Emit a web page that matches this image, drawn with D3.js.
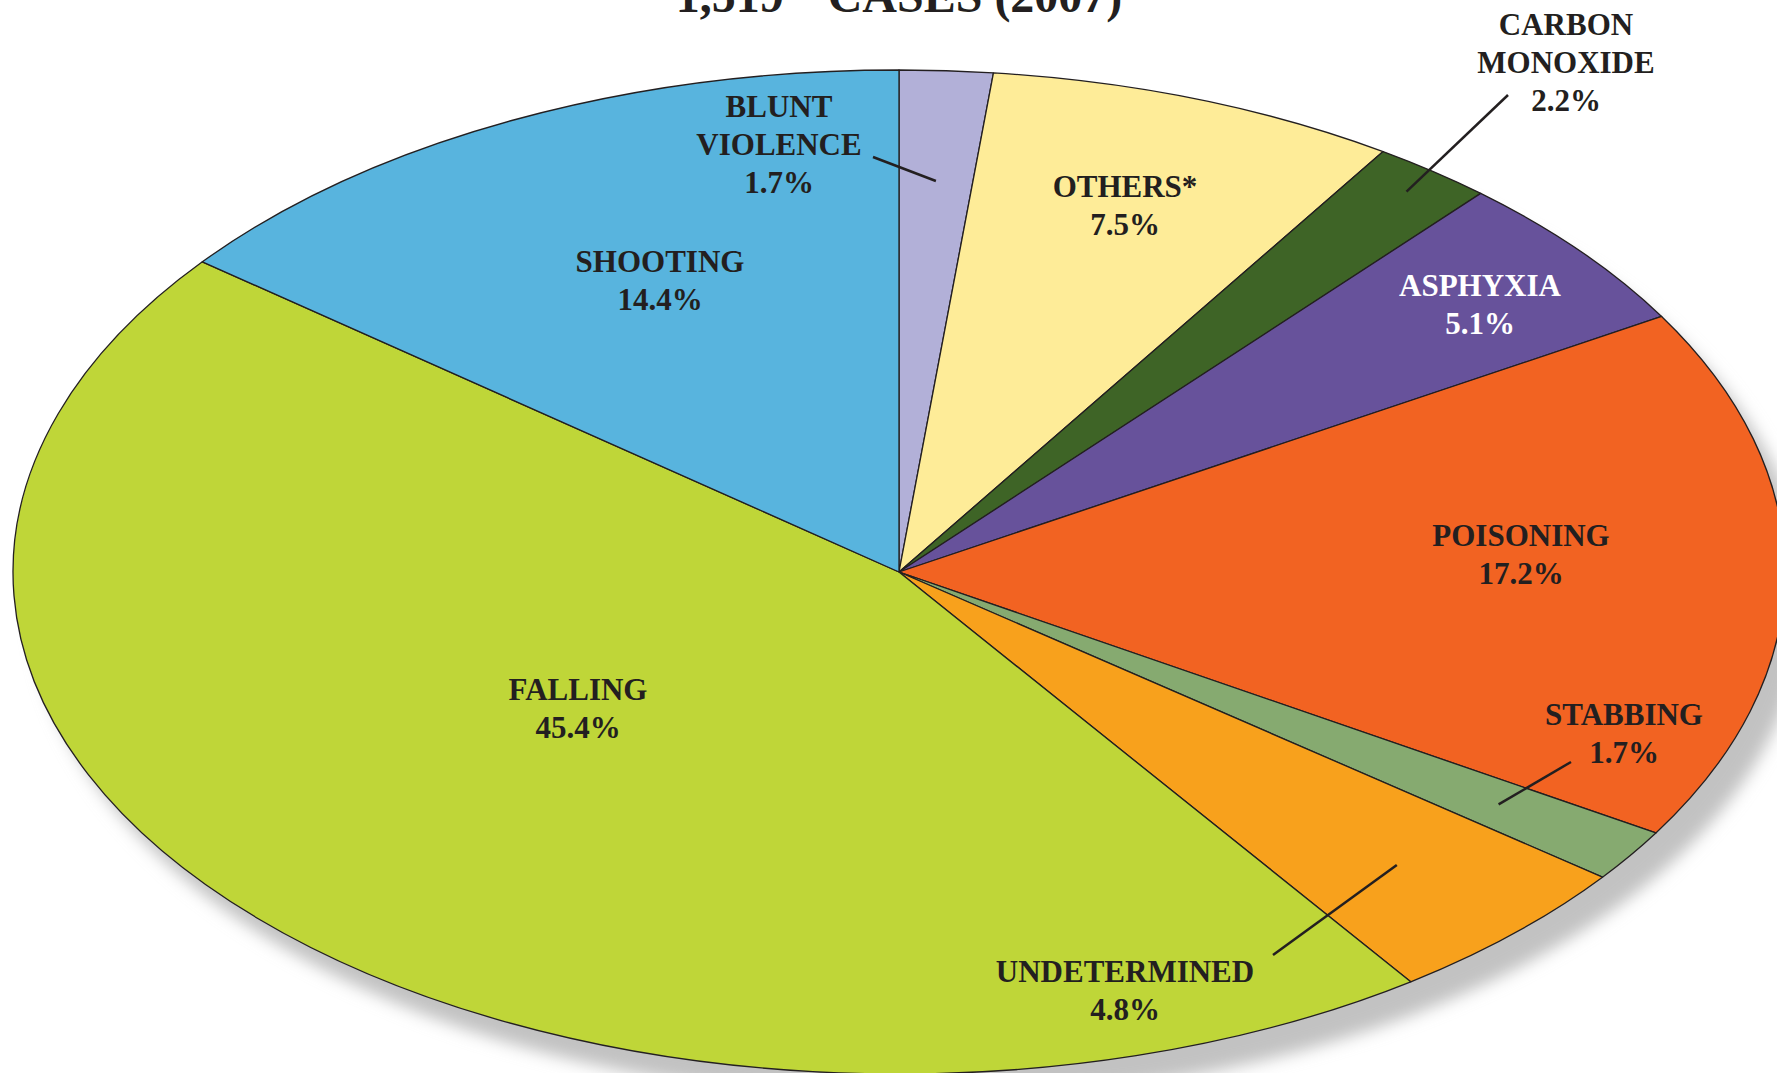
<!DOCTYPE html>
<html>
<head>
<meta charset="utf-8">
<script src="https://cdn.jsdelivr.net/npm/d3@7"></script>
<style>
  body { margin: 0; background: #fff; }
  text { font-family: "Liberation Serif", "Times New Roman", serif; font-weight: bold; }
</style>
</head>
<body>
<div id="chart"></div>
<script>
// clockwise from 12 o'clock
var categories = ['BLUNT VIOLENCE', 'OTHERS*', 'CARBON MONOXIDE', 'ASPHYXIA', 'POISONING',
                  'STABBING', 'UNDETERMINED', 'FALLING', 'SHOOTING'];
var values = [1.7, 7.5, 2.2, 5.1, 17.2, 1.7, 4.8, 45.4, 14.4];
var colors = ['#b2b0d8', '#feec98', '#3e6426', '#67529b', '#f26322',
              '#86aa70', '#f8a11c', '#bfd638', '#58b4de'];
var titleParts = ['1,519', '**', ' CASES (2007)'];

var width = 1777, height = 1073;
var cx = 899, cy = 572, rx = 886, ry = 502;
var ink = '#231f20';

// label placement (centre x, first baseline), leader lines: outer end + radius fraction
var labelPos = {
    'BLUNT VIOLENCE': { x: 779, y: 117, leader: { x: 873, y: 157, r: 0.78 } },
    'OTHERS*': { x: 1125, y: 197 },
    'CARBON MONOXIDE': { x: 1566, y: 35, leader: { x: 1508, y: 95, r: 0.95 } },
    'ASPHYXIA': { x: 1480, y: 296, fill: '#fff' },
    'POISONING': { x: 1521, y: 546 },
    'STABBING': { x: 1624, y: 725, leader: { x: 1571, y: 762, r: 0.82 } },
    'UNDETERMINED': { x: 1125, y: 982, leader: { x: 1273, y: 955, r: 0.81 } },
    'FALLING': { x: 578, y: 700 },
    'SHOOTING': { x: 660, y: 272 }
};

var svg = d3.select('#chart').append('svg')
    .attr('width', width)
    .attr('height', height);

var defs = svg.append('defs');
defs.append('filter')
    .attr('id', 'blur')
    .attr('x', '-10%').attr('y', '-10%')
    .attr('width', '120%').attr('height', '120%')
    .append('feGaussianBlur')
    .attr('stdDeviation', 8);

// drop shadow
svg.append('ellipse')
    .attr('cx', cx + 20)
    .attr('cy', cy + 26)
    .attr('rx', rx)
    .attr('ry', ry)
    .style('fill', '#c2c2c2')
    .attr('filter', 'url(#blur)');

var data = categories.map(function(c, i) { return { name: c, value: values[i], color: colors[i] }; });

var pie = d3.pie()
    .sort(null)
    .value(function(d) { return d.value; });

var arc = d3.arc()
    .innerRadius(0)
    .outerRadius(rx);

var arcs = pie(data);

svg.append('g')
    .attr('transform', 'translate(' + cx + ',' + cy + ') scale(1,' + (ry / rx) + ')')
    .selectAll('path')
    .data(arcs)
    .enter().append('path')
    .attr('d', arc)
    .attr('vector-effect', 'non-scaling-stroke')
    .style('fill', function(d) { return d.data.color; })
    .style('stroke', ink)
    .style('stroke-width', '1.3px')
    .style('stroke-linejoin', 'round');

// title (cut off at the top edge, as in the source)
var title = svg.append('text')
    .attr('x', cx)
    .attr('y', 12)
    .attr('text-anchor', 'middle')
    .style('font-size', '48px')
    .style('fill', ink);
title.append('tspan').text(titleParts[0]);
title.append('tspan').attr('dy', -18).style('font-size', '32px').text(titleParts[1]);
title.append('tspan').attr('dy', 18).text(titleParts[2]);

// leader lines
arcs.forEach(function(d) {
    var p = labelPos[d.data.name];
    if (!p.leader) return;
    var a = (d.startAngle + d.endAngle) / 2;
    var ix = cx + p.leader.r * rx * Math.sin(a);
    var iy = cy - p.leader.r * ry * Math.cos(a);
    svg.append('line')
        .attr('x1', p.leader.x).attr('y1', p.leader.y)
        .attr('x2', ix).attr('y2', iy)
        .style('stroke', ink)
        .style('stroke-width', '2.5px');
});

// labels
arcs.forEach(function(d) {
    var p = labelPos[d.data.name];
    var lines = d.data.name.split(' ').concat([d3.format('.1f')(d.data.value) + '%']);
    var t = svg.append('text')
        .attr('text-anchor', 'middle')
        .style('font-size', '31px')
        .style('fill', p.fill || ink);
    lines.forEach(function(l, i) {
        t.append('tspan')
            .attr('x', p.x)
            .attr('y', p.y + i * 38)
            .text(l);
    });
});
</script>
</body>
</html>
